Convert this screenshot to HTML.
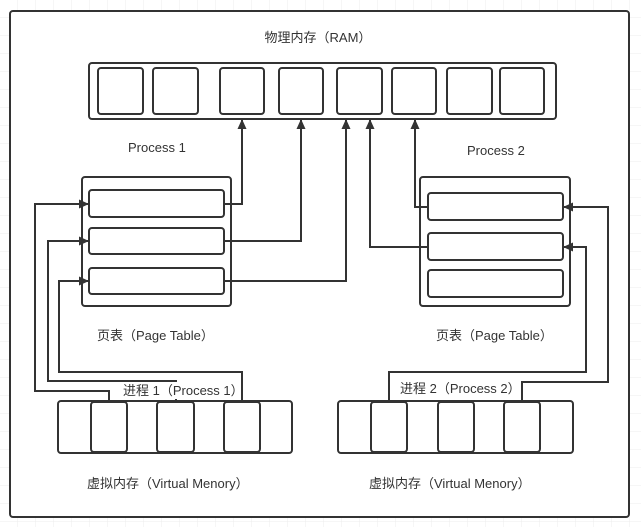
<!DOCTYPE html>
<html><head><meta charset="utf-8"><style>
html,body{margin:0;padding:0;background:#fff;}
svg{display:block;}
text{font-family:"Liberation Sans","Noto Sans CJK SC",sans-serif;font-size:13px;fill:#333;}
</style></head><body>
<svg width="641" height="527" viewBox="0 0 641 527" xmlns="http://www.w3.org/2000/svg">
<defs>
<pattern id="g" width="18" height="18" patternUnits="userSpaceOnUse"><path d="M18 0V18M0 18H18" stroke="#ececec" stroke-width="1" fill="none"/></pattern>
<marker id="a" markerWidth="10" markerHeight="10" refX="10" refY="5" orient="auto" markerUnits="userSpaceOnUse"><path d="M0,0.5 L10,5 L0,9.5 z" fill="#333"/></marker>
</defs>
<rect width="641" height="527" fill="url(#g)"/>
<rect x="10" y="11" width="619" height="506" rx="3" fill="#fff" stroke="#333" stroke-width="2"/>
<g fill="none" stroke="#333" stroke-width="2">
<rect x="89" y="63" width="467" height="56" rx="3"/>
<rect x="98" y="68" width="45" height="46" rx="3"/>
<rect x="153" y="68" width="45" height="46" rx="3"/>
<rect x="220" y="68" width="44" height="46" rx="3"/>
<rect x="279" y="68" width="44" height="46" rx="3"/>
<rect x="337" y="68" width="45" height="46" rx="3"/>
<rect x="392" y="68" width="44" height="46" rx="3"/>
<rect x="447" y="68" width="45" height="46" rx="3"/>
<rect x="500" y="68" width="44" height="46" rx="3"/>
<rect x="82" y="177" width="149" height="129" rx="3"/>
<rect x="89" y="190" width="135" height="27" rx="3"/>
<rect x="89" y="228" width="135" height="26" rx="3"/>
<rect x="89" y="268" width="135" height="26" rx="3"/>
<rect x="420" y="177" width="150" height="129" rx="3"/>
<rect x="428" y="193" width="135" height="27" rx="3"/>
<rect x="428" y="233" width="135" height="27" rx="3"/>
<rect x="428" y="270" width="135" height="27" rx="3"/>
<rect x="58" y="401" width="234" height="52" rx="3"/>
<rect x="91" y="402" width="36" height="50" rx="3"/>
<rect x="157" y="402" width="37" height="50" rx="3"/>
<rect x="224" y="402" width="36" height="50" rx="3"/>
<rect x="338" y="401" width="235" height="52" rx="3"/>
<rect x="371" y="402" width="36" height="50" rx="3"/>
<rect x="438" y="402" width="36" height="50" rx="3"/>
<rect x="504" y="402" width="36" height="50" rx="3"/>
<path d="M224 204H242V119" marker-end="url(#a)"/>
<path d="M224 241H301V119" marker-end="url(#a)"/>
<path d="M224 281H346V119" marker-end="url(#a)"/>
<path d="M428 247H370V119" marker-end="url(#a)"/>
<path d="M428 207H415V119" marker-end="url(#a)"/>
<path d="M109 401V391H35V204H89" marker-end="url(#a)"/>
<path d="M176 401V381H48V241H89" marker-end="url(#a)"/>
<path d="M242 401V372H59V281H89" marker-end="url(#a)"/>
<path d="M522 401V382H608V207H563" marker-end="url(#a)"/>
<path d="M389 401V372H586V247H563" marker-end="url(#a)"/>
</g>
<rect x="121" y="382" width="118" height="17" fill="#fff"/>
<rect x="398" y="380" width="120" height="17" fill="#fff"/>
<text x="318" y="42" text-anchor="middle">物理内存（RAM）</text>
<text x="128" y="152">Process 1</text>
<text x="467" y="155">Process 2</text>
<text x="97" y="340">页表（Page Table）</text>
<text x="436" y="340">页表（Page Table）</text>
<text x="123" y="395">进程 1（Process 1）</text>
<text x="400" y="393">进程 2（Process 2）</text>
<text x="87" y="488">虚拟内存（Virtual Menory）</text>
<text x="369" y="488">虚拟内存（Virtual Menory）</text>
</svg>
</body></html>
